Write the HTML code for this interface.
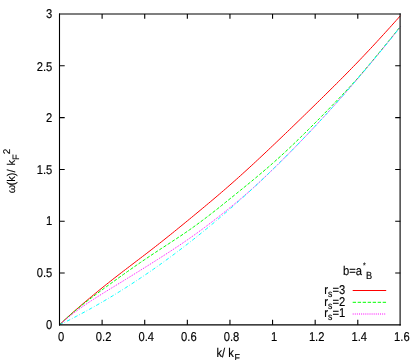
<!DOCTYPE html>
<html><head><meta charset="utf-8"><title>plot</title>
<style>
html,body{margin:0;padding:0;background:#fff;}
svg{display:block;}
text{font-family:"Liberation Sans",sans-serif;font-size:11.2px;fill:#000;stroke:#000;stroke-width:0.15px;text-rendering:geometricPrecision;}
.ax path{stroke:#000;stroke-width:1.1;fill:none;}
.c path{fill:none;stroke-width:1;}
</style></head><body>
<svg width="420" height="360" viewBox="0 0 420 360">
<rect x="0" y="0" width="420" height="360" fill="#fff"/>
<g class="c">
<path d="M59.50,324.85 L61.63,322.80 L63.76,320.78 L65.89,318.79 L68.02,316.83 L70.15,314.90 L72.28,313.00 L74.41,311.11 L76.55,309.25 L78.68,307.41 L80.81,305.58 L82.94,303.76 L85.07,301.96 L87.20,300.16 L89.33,298.38 L91.46,296.60 L93.59,294.83 L95.72,293.08 L97.85,291.33 L99.98,289.59 L102.11,287.86 L104.24,286.14 L106.37,284.43 L108.50,282.74 L110.63,281.05 L112.77,279.37 L114.90,277.71 L117.03,276.05 L119.16,274.40 L121.29,272.75 L123.42,271.11 L125.55,269.48 L127.68,267.85 L129.81,266.22 L131.94,264.60 L134.07,262.98 L136.20,261.35 L138.33,259.73 L140.46,258.11 L142.59,256.48 L144.72,254.85 L146.86,253.21 L148.99,251.57 L151.12,249.92 L153.25,248.26 L155.38,246.60 L157.51,244.93 L159.64,243.25 L161.77,241.57 L163.90,239.88 L166.03,238.18 L168.16,236.48 L170.29,234.77 L172.42,233.05 L174.55,231.33 L176.68,229.60 L178.81,227.87 L180.95,226.13 L183.08,224.39 L185.21,222.65 L187.34,220.90 L189.47,219.15 L191.60,217.40 L193.73,215.64 L195.86,213.89 L197.99,212.12 L200.12,210.36 L202.25,208.59 L204.38,206.81 L206.51,205.03 L208.64,203.25 L210.77,201.46 L212.90,199.66 L215.04,197.86 L217.17,196.05 L219.30,194.23 L221.43,192.40 L223.56,190.57 L225.69,188.73 L227.82,186.87 L229.95,185.01 L232.08,183.14 L234.21,181.25 L236.34,179.36 L238.47,177.45 L240.60,175.54 L242.73,173.62 L244.86,171.68 L246.99,169.74 L249.13,167.79 L251.26,165.83 L253.39,163.86 L255.52,161.89 L257.65,159.90 L259.78,157.91 L261.91,155.92 L264.04,153.92 L266.17,151.91 L268.30,149.89 L270.43,147.87 L272.56,145.85 L274.69,143.83 L276.82,141.80 L278.95,139.76 L281.08,137.73 L283.22,135.68 L285.35,133.64 L287.48,131.59 L289.61,129.54 L291.74,127.49 L293.87,125.43 L296.00,123.37 L298.13,121.31 L300.26,119.24 L302.39,117.17 L304.52,115.10 L306.65,113.03 L308.78,110.95 L310.91,108.87 L313.04,106.79 L315.17,104.71 L317.31,102.62 L319.44,100.53 L321.57,98.44 L323.70,96.34 L325.83,94.24 L327.96,92.14 L330.09,90.03 L332.22,87.91 L334.35,85.80 L336.48,83.67 L338.61,81.54 L340.74,79.40 L342.87,77.26 L345.00,75.10 L347.13,72.94 L349.26,70.77 L351.40,68.59 L353.53,66.40 L355.66,64.21 L357.79,62.00 L359.92,59.77 L362.05,57.54 L364.18,55.30 L366.31,53.04 L368.44,50.78 L370.57,48.50 L372.70,46.22 L374.83,43.92 L376.96,41.62 L379.09,39.30 L381.22,36.98 L383.35,34.65 L385.49,32.31 L387.62,29.96 L389.75,27.61 L391.88,25.25 L394.01,22.88 L396.14,20.51 L398.27,18.13 L400.40,15.74" stroke="#ff0000"/>
<path d="M59.50,324.85 L61.63,322.80 L63.76,320.79 L65.89,318.82 L68.02,316.89 L70.15,315.01 L72.28,313.16 L74.41,311.34 L76.55,309.57 L78.68,307.82 L80.81,306.10 L82.94,304.40 L85.07,302.72 L87.20,301.06 L89.33,299.42 L91.46,297.79 L93.59,296.18 L95.72,294.57 L97.85,292.98 L99.98,291.40 L102.11,289.83 L104.24,288.26 L106.37,286.71 L108.50,285.15 L110.63,283.61 L112.77,282.07 L114.90,280.54 L117.03,279.01 L119.16,277.48 L121.29,275.96 L123.42,274.44 L125.55,272.93 L127.68,271.42 L129.81,269.92 L131.94,268.42 L134.07,266.93 L136.20,265.44 L138.33,263.96 L140.46,262.49 L142.59,261.02 L144.72,259.57 L146.86,258.13 L148.99,256.70 L151.12,255.27 L153.25,253.86 L155.38,252.45 L157.51,251.05 L159.64,249.66 L161.77,248.26 L163.90,246.88 L166.03,245.49 L168.16,244.10 L170.29,242.71 L172.42,241.32 L174.55,239.93 L176.68,238.52 L178.81,237.11 L180.95,235.69 L183.08,234.26 L185.21,232.81 L187.34,231.35 L189.47,229.86 L191.60,228.36 L193.73,226.84 L195.86,225.30 L197.99,223.75 L200.12,222.17 L202.25,220.58 L204.38,218.98 L206.51,217.36 L208.64,215.72 L210.77,214.07 L212.90,212.41 L215.04,210.74 L217.17,209.05 L219.30,207.36 L221.43,205.66 L223.56,203.95 L225.69,202.24 L227.82,200.52 L229.95,198.80 L232.08,197.08 L234.21,195.36 L236.34,193.64 L238.47,191.92 L240.60,190.19 L242.73,188.47 L244.86,186.73 L246.99,184.99 L249.13,183.25 L251.26,181.50 L253.39,179.74 L255.52,177.97 L257.65,176.20 L259.78,174.41 L261.91,172.61 L264.04,170.80 L266.17,168.98 L268.30,167.14 L270.43,165.29 L272.56,163.42 L274.69,161.53 L276.82,159.62 L278.95,157.69 L281.08,155.75 L283.22,153.80 L285.35,151.82 L287.48,149.83 L289.61,147.83 L291.74,145.81 L293.87,143.77 L296.00,141.72 L298.13,139.66 L300.26,137.59 L302.39,135.51 L304.52,133.41 L306.65,131.31 L308.78,129.19 L310.91,127.07 L313.04,124.94 L315.17,122.80 L317.31,120.65 L319.44,118.50 L321.57,116.34 L323.70,114.18 L325.83,112.01 L327.96,109.82 L330.09,107.63 L332.22,105.43 L334.35,103.23 L336.48,101.01 L338.61,98.77 L340.74,96.53 L342.87,94.28 L345.00,92.01 L347.13,89.73 L349.26,87.44 L351.40,85.13 L353.53,82.81 L355.66,80.47 L357.79,78.11 L359.92,75.63 L362.05,73.13 L364.18,70.62 L366.31,68.10 L368.44,65.56 L370.57,63.02 L372.70,60.47 L374.83,57.91 L376.96,55.34 L379.09,52.75 L381.22,50.16 L383.35,47.56 L385.49,44.94 L387.62,42.32 L389.75,39.68 L391.88,37.04 L394.01,34.38 L396.14,31.71 L398.27,29.04 L400.40,26.35" stroke="#00ff00" stroke-dasharray="3.35,1.65"/>
<path d="M59.50,324.85 L61.63,322.96 L63.76,321.11 L65.89,319.31 L68.02,317.55 L70.15,315.84 L72.28,314.16 L74.41,312.53 L76.55,310.94 L78.68,309.38 L80.81,307.86 L82.94,306.36 L85.07,304.89 L87.20,303.45 L89.33,302.03 L91.46,300.63 L93.59,299.25 L95.72,297.89 L97.85,296.54 L99.98,295.20 L102.11,293.87 L104.24,292.55 L106.37,291.23 L108.50,289.92 L110.63,288.62 L112.77,287.32 L114.90,286.01 L117.03,284.71 L119.16,283.41 L121.29,282.11 L123.42,280.80 L125.55,279.49 L127.68,278.18 L129.81,276.87 L131.94,275.55 L134.07,274.23 L136.20,272.91 L138.33,271.59 L140.46,270.26 L142.59,268.92 L144.72,267.59 L146.86,266.26 L148.99,264.92 L151.12,263.58 L153.25,262.24 L155.38,260.89 L157.51,259.54 L159.64,258.19 L161.77,256.83 L163.90,255.46 L166.03,254.09 L168.16,252.71 L170.29,251.32 L172.42,249.93 L174.55,248.53 L176.68,247.11 L178.81,245.69 L180.95,244.26 L183.08,242.81 L185.21,241.35 L187.34,239.88 L189.47,238.40 L191.60,236.90 L193.73,235.39 L195.86,233.87 L197.99,232.33 L200.12,230.78 L202.25,229.21 L204.38,227.63 L206.51,226.04 L208.64,224.43 L210.77,222.81 L212.90,221.18 L215.04,219.53 L217.17,217.87 L219.30,216.20 L221.43,214.51 L223.56,212.82 L225.69,211.11 L227.82,209.39 L229.95,207.66 L232.08,205.91 L234.21,204.16 L236.34,202.39 L238.47,200.61 L240.60,198.82 L242.73,197.01 L244.86,195.19 L246.99,193.34 L249.13,191.49 L251.26,189.61 L253.39,187.72 L255.52,185.80 L257.65,183.87 L259.78,181.87 L261.91,179.85 L264.04,177.83 L266.17,175.80 L268.30,173.75 L270.43,171.70 L272.56,169.63 L274.69,167.56 L276.82,165.47 L278.95,163.37 L281.08,161.27 L283.22,159.15 L285.35,157.02 L287.48,154.89 L289.61,152.74 L291.74,150.58 L293.87,148.41 L296.00,146.23 L298.13,144.04 L300.26,141.84 L302.39,139.63 L304.52,137.41 L306.65,135.18 L308.78,132.94 L310.91,130.69 L313.04,128.43 L315.17,126.15 L317.31,123.87 L319.44,121.58 L321.57,119.28 L323.70,116.96 L325.83,114.64 L327.96,112.30 L330.09,109.96 L332.22,107.60 L334.35,105.24 L336.48,102.86 L338.61,100.48 L340.74,98.08 L342.87,95.67 L345.00,93.25 L347.13,90.83 L349.26,88.39 L351.40,85.94 L353.53,83.48 L355.66,81.01 L357.79,78.53 L359.92,76.04 L362.05,73.54 L364.18,71.03 L366.31,68.51 L368.44,65.98 L370.57,63.44 L372.70,60.89 L374.83,58.32 L376.96,55.75 L379.09,53.17 L381.22,50.57 L383.35,47.97 L385.49,45.36 L387.62,42.73 L389.75,40.10 L391.88,37.45 L394.01,34.79 L396.14,32.13 L398.27,29.45 L400.40,26.77" stroke="#ff00ff" stroke-dasharray="1,1.1"/>
<path d="M59.50,324.85 L61.63,323.81 L63.76,322.76 L65.89,321.70 L68.02,320.63 L70.15,319.55 L72.28,318.46 L74.41,317.36 L76.55,316.25 L78.68,315.12 L80.81,313.99 L82.94,312.85 L85.07,311.69 L87.20,310.53 L89.33,309.36 L91.46,308.17 L93.59,306.98 L95.72,305.77 L97.85,304.56 L99.98,303.33 L102.11,302.10 L104.24,300.85 L106.37,299.59 L108.50,298.33 L110.63,297.05 L112.77,295.76 L114.90,294.46 L117.03,293.15 L119.16,291.83 L121.29,290.50 L123.42,289.16 L125.55,287.81 L127.68,286.45 L129.81,285.08 L131.94,283.70 L134.07,282.31 L136.20,280.91 L138.33,279.50 L140.46,278.07 L142.59,276.64 L144.72,275.20 L146.86,273.74 L148.99,272.28 L151.12,270.80 L153.25,269.32 L155.38,267.82 L157.51,266.32 L159.64,264.80 L161.77,263.28 L163.90,261.74 L166.03,260.19 L168.16,258.64 L170.29,257.07 L172.42,255.49 L174.55,253.90 L176.68,252.30 L178.81,250.69 L180.95,249.07 L183.08,247.44 L185.21,245.80 L187.34,244.15 L189.47,242.49 L191.60,240.82 L193.73,239.14 L195.86,237.45 L197.99,235.74 L200.12,234.03 L202.25,232.31 L204.38,230.58 L206.51,228.83 L208.64,227.08 L210.77,225.31 L212.90,223.54 L215.04,221.75 L217.17,219.96 L219.30,218.15 L221.43,216.33 L223.56,214.51 L225.69,212.67 L227.82,210.82 L229.95,208.97 L232.08,207.10 L234.21,205.22 L236.34,203.33 L238.47,201.43 L240.60,199.52 L242.73,197.60 L244.86,195.67 L246.99,193.73 L249.13,191.78 L251.26,189.82 L253.39,187.84 L255.52,185.86 L257.65,183.87 L259.78,181.87 L261.91,179.85 L264.04,177.83 L266.17,175.80 L268.30,173.75 L270.43,171.70 L272.56,169.63 L274.69,167.56 L276.82,165.47 L278.95,163.37 L281.08,161.27 L283.22,159.15 L285.35,157.02 L287.48,154.89 L289.61,152.74 L291.74,150.58 L293.87,148.41 L296.00,146.23 L298.13,144.04 L300.26,141.84 L302.39,139.63 L304.52,137.41 L306.65,135.18 L308.78,132.94 L310.91,130.69 L313.04,128.43 L315.17,126.15 L317.31,123.87 L319.44,121.58 L321.57,119.28 L323.70,116.96 L325.83,114.64 L327.96,112.30 L330.09,109.96 L332.22,107.60 L334.35,105.24 L336.48,102.86 L338.61,100.48 L340.74,98.08 L342.87,95.67 L345.00,93.25 L347.13,90.83 L349.26,88.39 L351.40,85.94 L353.53,83.48 L355.66,81.01 L357.79,78.53 L359.92,76.04 L362.05,73.54 L364.18,71.03 L366.31,68.51 L368.44,65.98 L370.57,63.44 L372.70,60.89 L374.83,58.32 L376.96,55.75 L379.09,53.17 L381.22,50.57 L383.35,47.97 L385.49,45.36 L387.62,42.73 L389.75,40.10 L391.88,37.45 L394.01,34.79 L396.14,32.13 L398.27,29.45 L400.40,26.77" stroke="#00ffff" stroke-dasharray="3.6,2,0.7,2"/>
<path d="M352.7,290.5 H386.2" stroke="#ff0000"/>
<path d="M352.7,302.3 H386.2" stroke="#00ff00" stroke-dasharray="3.35,1.65"/>
<path d="M352.7,314 H386.2" stroke="#ff00ff" stroke-dasharray="1,1.1"/>
</g>
<g class="ax">
<path d="M59.5,13.45 V325.45" stroke-width="1.05"/>
<path d="M400.1,13.45 V325.45" stroke-width="1.2"/>
<path d="M59,14 H400.8" stroke-width="1.08"/>
<path d="M59,324.9 H400.8" stroke-width="1.15"/>
<path d="M102.11,324.85 v-5.05 M102.11,14.0 v4.7" stroke-width="1.3"/>
<path d="M144.72,324.85 v-5.05 M144.72,14.0 v4.7" stroke-width="1.3"/>
<path d="M187.34,324.85 v-5.05 M187.34,14.0 v4.7" stroke-width="1.3"/>
<path d="M229.95,324.85 v-5.05 M229.95,14.0 v4.7" stroke-width="1.3"/>
<path d="M272.56,324.85 v-5.05 M272.56,14.0 v4.7" stroke-width="1.3"/>
<path d="M315.18,324.85 v-5.05 M315.18,14.0 v4.7" stroke-width="1.3"/>
<path d="M357.79,324.85 v-5.05 M357.79,14.0 v4.7" stroke-width="1.3"/>
<path d="M59.5,273.04 h5.2 M400.4,273.04 h-5.2" stroke-width="1"/>
<path d="M59.5,221.23 h5.2 M400.4,221.23 h-5.2" stroke-width="1"/>
<path d="M59.5,169.43 h5.2 M400.4,169.43 h-5.2" stroke-width="1"/>
<path d="M59.5,117.62 h5.2 M400.4,117.62 h-5.2" stroke-width="1"/>
<path d="M59.5,65.81 h5.2 M400.4,65.81 h-5.2" stroke-width="1"/>
</g>
<g opacity="0.999">
<text transform="translate(61.00 340.90) scale(1 1.143)" text-anchor="middle">0</text>
<text transform="translate(103.61 340.90) scale(1 1.143)" text-anchor="middle">0.2</text>
<text transform="translate(146.22 340.90) scale(1 1.143)" text-anchor="middle">0.4</text>
<text transform="translate(188.84 340.90) scale(1 1.143)" text-anchor="middle">0.6</text>
<text transform="translate(231.45 340.90) scale(1 1.143)" text-anchor="middle">0.8</text>
<text transform="translate(274.06 340.90) scale(1 1.143)" text-anchor="middle">1</text>
<text transform="translate(316.68 340.90) scale(1 1.143)" text-anchor="middle">1.2</text>
<text transform="translate(359.29 340.90) scale(1 1.143)" text-anchor="middle">1.4</text>
<text transform="translate(401.90 340.90) scale(1 1.143)" text-anchor="middle">1.6</text>
<text transform="translate(52.30 328.95) scale(1 1.143)" text-anchor="end">0</text>
<text transform="translate(52.30 277.04) scale(1 1.143)" text-anchor="end">0.5</text>
<text transform="translate(52.30 225.23) scale(1 1.143)" text-anchor="end">1</text>
<text transform="translate(52.30 174.12) scale(1 1.143)" text-anchor="end">1.5</text>
<text transform="translate(52.30 122.32) scale(1 1.143)" text-anchor="end">2</text>
<text transform="translate(52.30 70.51) scale(1 1.143)" text-anchor="end">2.5</text>
<text transform="translate(52.30 18.20) scale(1 1.143)" text-anchor="end">3</text>
<text transform="translate(216.50 357.00) scale(1 1.143)">k/ k<tspan dx="0.5" dy="3.2" font-size="8.8">F</tspan></text>
<text transform="translate(15.40 193.20) scale(1 1.0) rotate(-90)"><tspan font-size="10.8">ω</tspan><tspan dx="-0.8">(k)/ </tspan><tspan dx="0.7">k</tspan><tspan dy="3.5" font-size="9.3">F</tspan><tspan dy="-9.3" font-size="9.8">2</tspan></text>
<text transform="translate(343.00 275.20) scale(1 1.143)">b=a<tspan dx="1" dy="-6.6" font-size="7">*</tspan><tspan dx="0.4" dy="10.0" font-size="9.2">B</tspan></text>
<text transform="translate(324.30 294.10) scale(1 1.143)">r<tspan dy="2.7" font-size="8.7">s</tspan><tspan dy="-2.7">=3</tspan></text>
<text transform="translate(324.30 305.60) scale(1 1.143)">r<tspan dy="2.7" font-size="8.7">s</tspan><tspan dy="-2.7">=2</tspan></text>
<text transform="translate(324.30 317.10) scale(1 1.143)">r<tspan dy="2.7" font-size="8.7">s</tspan><tspan dy="-2.7">=1</tspan></text>
</g>
</svg>
</body></html>
